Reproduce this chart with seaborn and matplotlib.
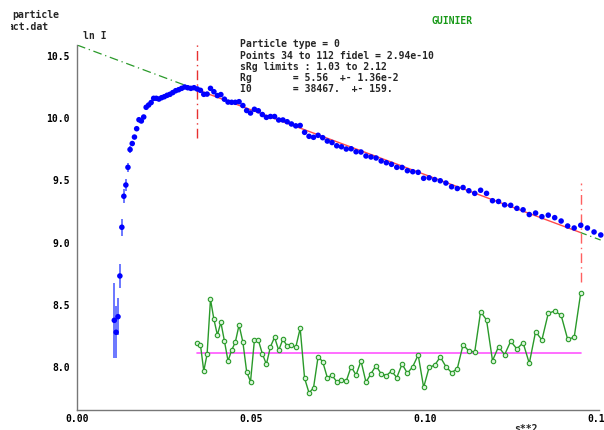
import matplotlib
matplotlib.use("Agg")
import matplotlib.pyplot as plt
import seaborn as sns

# s**2 of every measured point (points 1..115)
s2 = [0.01072, 0.01124, 0.01178, 0.01232, 0.01289, 0.01346, 0.01404, 0.01464, 0.01525, 0.01587,
      0.01651, 0.01715, 0.01781, 0.01849, 0.01917, 0.01987, 0.02058, 0.02130, 0.02203, 0.02278,
      0.02354, 0.02431, 0.02510, 0.02589, 0.02670, 0.02752, 0.02836, 0.02921, 0.03006, 0.03094,
      0.03182, 0.03272, 0.03363, 0.03455, 0.03548, 0.03643, 0.03738, 0.03836, 0.03934, 0.04034,
      0.04134, 0.04236, 0.04340, 0.04444, 0.04550, 0.04657, 0.04766, 0.04875, 0.04986, 0.05098,
      0.05211, 0.05326, 0.05442, 0.05559, 0.05677, 0.05796, 0.05917, 0.06039, 0.06162, 0.06287,
      0.06413, 0.06540, 0.06668, 0.06797, 0.06928, 0.07060, 0.07193, 0.07328, 0.07463, 0.07600,
      0.07738, 0.07878, 0.08019, 0.08161, 0.08304, 0.08448, 0.08594, 0.08741, 0.08889, 0.09038,
      0.09189, 0.09341, 0.09494, 0.09648, 0.09804, 0.09961, 0.10119, 0.10278, 0.10439, 0.10601,
      0.10764, 0.10928, 0.11094, 0.11260, 0.11429, 0.11598, 0.11768, 0.11940, 0.12113, 0.12288,
      0.12463, 0.12640, 0.12818, 0.12997, 0.13178, 0.13359, 0.13542, 0.13727, 0.13912, 0.14099,
      0.14287, 0.14476, 0.14667, 0.14858, 0.15051]

ln_i = [8.377, 8.281, 8.406, 8.733, 9.124, 9.373, 9.463, 9.605, 9.748, 9.796,
        9.848, 9.915, 9.987, 9.977, 10.009, 10.087, 10.105, 10.125, 10.159, 10.159,
        10.153, 10.164, 10.172, 10.183, 10.191, 10.205, 10.220, 10.228, 10.239, 10.250,
        10.244, 10.239, 10.244, 10.234, 10.223, 10.191, 10.193, 10.239, 10.212, 10.181,
        10.189, 10.152, 10.129, 10.127, 10.127, 10.132, 10.101, 10.061, 10.041, 10.071,
        10.059, 10.029, 10.006, 10.013, 10.013, 9.985, 9.985, 9.971, 9.953, 9.938,
        9.941, 9.886, 9.854, 9.846, 9.862, 9.843, 9.816, 9.804, 9.778, 9.770,
        9.752, 9.754, 9.730, 9.728, 9.696, 9.688, 9.680, 9.656, 9.642, 9.629,
        9.605, 9.604, 9.578, 9.570, 9.565, 9.517, 9.521, 9.507, 9.497, 9.479,
        9.449, 9.435, 9.443, 9.417, 9.396, 9.421, 9.396, 9.337, 9.331, 9.304,
        9.300, 9.276, 9.264, 9.226, 9.238, 9.209, 9.221, 9.201, 9.174, 9.134,
        9.118, 9.140, 9.118, 9.086, 9.062]

# error bars, only visible on the first points
err_first = [0.30, 0.21, 0.15, 0.10, 0.07, 0.056, 0.045, 0.036, 0.025, 0.02]

# residuals of the fitted points 34..112, drawn shifted around 8.11
resid = [8.193, 8.179, 7.970, 8.104, 8.546, 8.385, 8.259, 8.361, 8.211, 8.051,
         8.136, 8.203, 8.339, 8.203, 7.965, 7.884, 8.217, 8.217, 8.109, 8.024,
         8.165, 8.241, 8.136, 8.225, 8.171, 8.177, 8.161, 8.313, 7.912, 7.794,
         7.836, 8.085, 8.045, 7.917, 7.936, 7.884, 7.900, 7.890, 8.005, 7.938,
         8.051, 7.880, 7.949, 8.013, 7.946, 7.933, 7.970, 7.917, 8.026, 7.952,
         8.005, 8.099, 7.839, 8.000, 8.016, 8.083, 8.005, 7.957, 7.989, 8.181,
         8.131, 8.123, 8.446, 8.380, 8.053, 8.165, 8.101, 8.209, 8.147, 8.197,
         8.032, 8.286, 8.219, 8.433, 8.452, 8.417, 8.225, 8.241, 8.599]
resid_base = 8.112
first_fit, last_fit = 34, 112

# Guinier line
line_x0, line_y0 = 0.0, 10.587
line_x1, line_y1 = 0.15051, 9.021
fit_lo, fit_hi = 0.03455, 0.14476

info_lines = ["Particle type = 0",
              "Points 34 to 112 fidel = 2.94e-10",
              "sRg limits : 1.03 to 2.12",
              "Rg       = 5.56  +- 1.36e-2",
              "I0       = 38467.  +- 159."]

yticks = [8.0, 8.5, 9.0, 9.5, 10.0, 10.5]
xticks = [0.0, 0.05, 0.10, 0.15]
xticklabels = ["0.00", "0.05", "0.10", "0.15"]

sns.set_theme(style="white")
plt.rcParams["font.family"] = ["DejaVu Sans Mono"]
plt.rcParams["font.weight"] = "bold"

W, H = 604, 430
fig = plt.figure(figsize=(6.04, 4.30), dpi=100)
ax = fig.add_axes([77 / W, 1 - 410 / H, 522 / W, 365 / H])
ax.set_xlim(0, 0.15)
ax.set_ylim(7.657, 10.587)


def line_at(x):
    return line_y0 + (line_y1 - line_y0) * (x - line_x0) / (line_x1 - line_x0)


green = "#2a9a2a"
ax.plot([line_x0, fit_lo], [line_y0, line_at(fit_lo)], color=green, lw=0.9,
        ls=(0, (7, 3, 1, 3)))
ax.plot([fit_lo, fit_hi], [line_at(fit_lo), line_at(fit_hi)], color="#ff4a4a", lw=1)
ax.plot([fit_hi, line_x1], [line_at(fit_hi), line_y1], color=green, lw=0.9,
        ls=(0, (5, 3, 1, 3)), clip_on=False)

# fit limits
ax.plot([fit_lo, fit_lo], [9.838, 10.62], color="#e83030", lw=1,
        ls=(0, (7, 3, 1, 3)), clip_on=False)
ax.plot([fit_hi, fit_hi], [8.687, 9.477], color="#ff6060", lw=1,
        ls=(0, (7, 3, 1, 3)))

# data with error bars
ax.errorbar(s2[:len(err_first)], ln_i[:len(err_first)], yerr=err_first, fmt="none",
            ecolor="#3344ff", elinewidth=1.2, alpha=0.85)
sns.scatterplot(x=s2, y=ln_i, ax=ax, color="#0000ff", s=16, edgecolor="none",
                clip_on=False, zorder=4)

# residuals
res_x = s2[first_fit - 1:last_fit]
ax.plot([res_x[0], res_x[-1]], [resid_base, resid_base], color="#ff55ff", lw=1.2)
sns.lineplot(x=res_x, y=resid, ax=ax, color=green, lw=1, sort=False, estimator=None,
             marker="o", markersize=3.2, markerfacecolor="#d8f5d8",
             markeredgecolor=green, markeredgewidth=0.8)

for sp in ["top", "right"]:
    ax.spines[sp].set_visible(False)
for sp in ["left", "bottom"]:
    ax.spines[sp].set_color("#777777")
    ax.spines[sp].set_linewidth(1)

ax.set_yticks(yticks)
ax.set_yticklabels([f"{v:.1f}" for v in yticks])
ax.set_xticks(xticks)
ax.set_xticklabels(xticklabels)
ax.tick_params(direction="in", length=3, width=1, color="#777777", labelsize=7,
               labelcolor="black")
ax.tick_params(axis="y", pad=5)
ax.tick_params(axis="x", pad=3)
ax.set_xlabel("")
ax.set_ylabel("")

fig.text(83 / W, 1 - 36 / H, "ln I", fontsize=7, va="center")
fig.text(431 / W, 1 - 21 / H, "GUINIER", fontsize=7, va="center", color="#1a9a1a")
for i, t in enumerate(info_lines):
    fig.text(240.5 / W, 1 - (44.3 + 11.25 * i) / H, t, fontsize=7, va="center")
fig.text(526 / W, 1 - 424.5 / H, "s**2", fontsize=7, ha="center", va="top")

# file name lines, clipped on the left like the original window
tax = fig.add_axes([10.5 / W, 1 - 34 / H, 200 / W, 30 / H])
tax.axis("off")
tax.set_xlim(0, 200)
tax.set_ylim(34, 4)
tax.text(12.3 - 10.5, 15, "particle", fontsize=7, va="center", clip_on=True)
tax.text(7.6 - 10.5, 27, "act.dat", fontsize=7, va="center", clip_on=True)

fig.savefig("out.png", dpi=100)
